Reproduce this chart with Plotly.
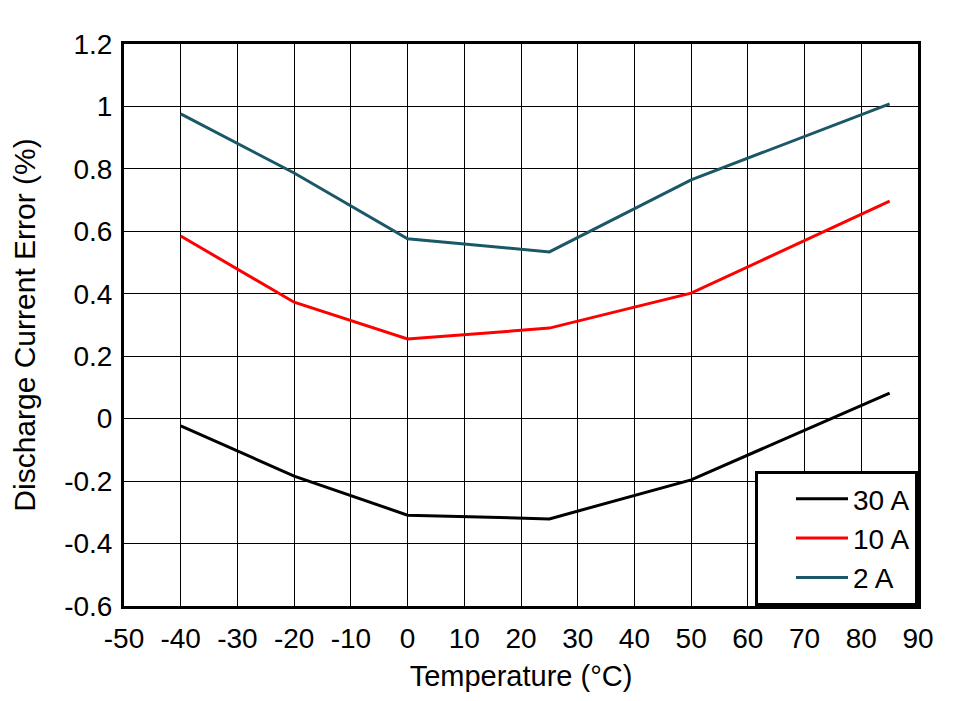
import plotly.graph_objects as go

temps = [-40, -20, 0, 25, 50, 85]
err_30a = [-0.023, -0.184, -0.309, -0.321, -0.196, 0.082]
err_10a = [0.585, 0.373, 0.255, 0.290, 0.402, 0.697]
err_2a = [0.976, 0.787, 0.576, 0.534, 0.765, 1.008]

x_ticks = [-50, -40, -30, -20, -10, 0, 10, 20, 30, 40, 50, 60, 70, 80, 90]
x_tick_labels = ["-50", "-40", "-30", "-20", "-10", "0", "10", "20", "30", "40", "50", "60", "70", "80", "90"]
y_ticks = [-0.6, -0.4, -0.2, 0, 0.2, 0.4, 0.6, 0.8, 1.0, 1.2]
y_tick_labels = ["-0.6", "-0.4", "-0.2", "0", "0.2", "0.4", "0.6", "0.8", "1", "1.2"]

series = [("30 A", err_30a, "#000000"), ("10 A", err_10a, "#FF0000"), ("2 A", err_2a, "#1A5767")]

fig = go.Figure()
for name, vals, col in series:
    fig.add_trace(go.Scatter(x=temps, y=vals, mode="lines", name=name,
                             line=dict(color=col, width=3)))

ff = "Arial, Liberation Sans, sans-serif"
font = dict(family=ff, size=28, color="black")
fig.update_layout(
    width=958, height=701,
    margin=dict(l=116, r=48, t=36, b=103),
    paper_bgcolor="white", plot_bgcolor="white",
    font=font,
    showlegend=True,
    legend=dict(x=1, y=0, xanchor="right", yanchor="bottom",
                bgcolor="white", bordercolor="black", borderwidth=3,
                font=font, tracegroupgap=0, itemwidth=52, indentation=33),
    xaxis=dict(range=[-50, 90], tickvals=x_ticks, ticktext=x_tick_labels, showgrid=True, gridcolor="black",
               gridwidth=1, showline=True, linecolor="black", linewidth=3, mirror=True,
               ticks="", zeroline=False, ticklabelstandoff=5,
               title=dict(text="Temperature (°C)", font=dict(family=ff, size=29, color="black"), standoff=14)),
    yaxis=dict(range=[-0.6, 1.2], tickvals=y_ticks, ticktext=y_tick_labels, showgrid=True, gridcolor="black",
               gridwidth=1, showline=True, linecolor="black", linewidth=3, mirror=True,
               ticks="", zeroline=False, ticklabelstandoff=3,
               title=dict(text="Discharge Current Error (%)", font=dict(family=ff, size=30, color="black"), standoff=23)),
)
fig.write_html("out.html")
